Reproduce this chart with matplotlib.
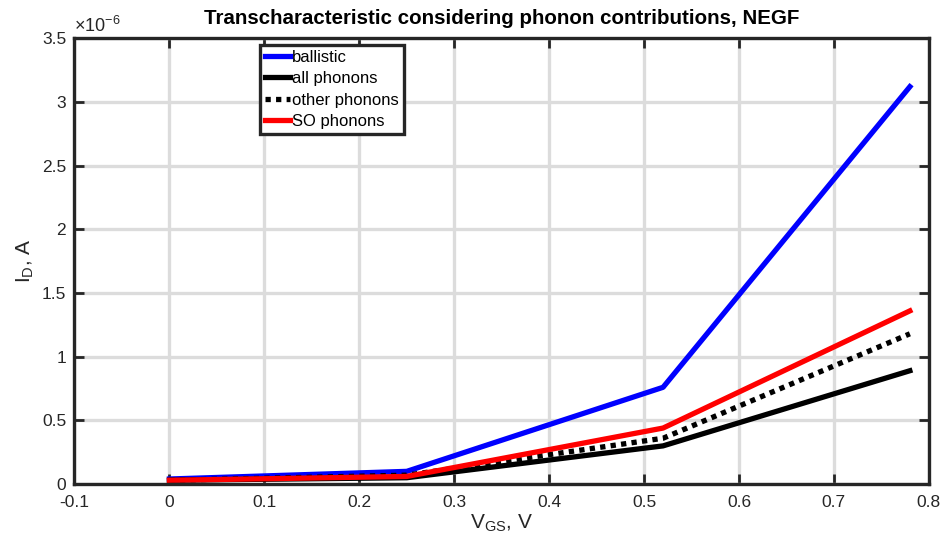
import matplotlib
matplotlib.use('Agg')
import matplotlib.pyplot as plt

plt.rcParams['font.family'] = ['Liberation Sans', 'DejaVu Sans']
plt.rcParams['mathtext.default'] = 'regular'

# gate voltage, V
vgs = [0.0, 0.25, 0.52, 0.78]
# drain current, in units of 1e-6 A
id_ballistic = [0.04, 0.10, 0.76, 3.12]
id_all = [0.03, 0.05, 0.30, 0.89]
id_other = [0.03, 0.07, 0.36, 1.18]
id_so = [0.03, 0.06, 0.44, 1.36]

xticks = [-0.1, 0, 0.1, 0.2, 0.3, 0.4, 0.5, 0.6, 0.7, 0.8]
yticks = [0, 0.5, 1, 1.5, 2, 2.5, 3, 3.5]

fig = plt.figure(figsize=(9.43, 5.47), dpi=100)
ax = fig.add_axes([0.079, 0.115, 0.906, 0.815])

lw = 3.8
ax.plot(vgs, id_ballistic, color='#0000ff', lw=lw, label='ballistic')
ax.plot(vgs, id_all, color='black', lw=lw, label='all phonons')
ax.plot(vgs, id_other, color='black', lw=lw, ls=(0, (1, 1)), label='other phonons')
ax.plot(vgs, id_so, color='#ff0000', lw=lw, label='SO phonons')

ax.set_xlim(-0.1, 0.8)
ax.set_ylim(0, 3.5)
ax.set_xticks(xticks)
ax.set_xticklabels(['%g' % t for t in xticks])
ax.set_yticks(yticks)
ax.set_yticklabels(['%g' % t for t in yticks])
ax.tick_params(direction='in', length=7, width=2, top=True, right=True,
               labelsize=12.5, colors='#262626')
ax.tick_params(axis='x', pad=8)
ax.tick_params(axis='y', pad=6)
ax.grid(True, color='#dcdcdc', lw=2.4)
ax.set_axisbelow(True)
for s in ax.spines.values():
    s.set_linewidth(2.4)
    s.set_color('#262626')

ax.set_xlabel('$V_{GS}$, V', fontsize=15, color='#262626', labelpad=2)
ax.set_ylabel('$I_D$, A', fontsize=15, color='#262626', labelpad=4)
ax.set_title('Transcharacteristic considering phonon contributions, NEGF',
             fontsize=14.8, fontweight='bold', pad=10)
ax.text(0.0, 1.005, r'$\times10^{-6}$', transform=ax.transAxes,
        fontsize=13, color='#262626', va='bottom', ha='left')

leg = ax.legend(loc='upper left', bbox_to_anchor=(0.217, 0.985), fontsize=12,
                handlelength=1.5, handletextpad=0.15, labelspacing=0.38,
                borderpad=0.3, borderaxespad=0, fancybox=False, framealpha=1)
leg.get_frame().set_edgecolor('#262626')
leg.get_frame().set_linewidth(2.4)

fig.savefig('out.png', dpi=100)
